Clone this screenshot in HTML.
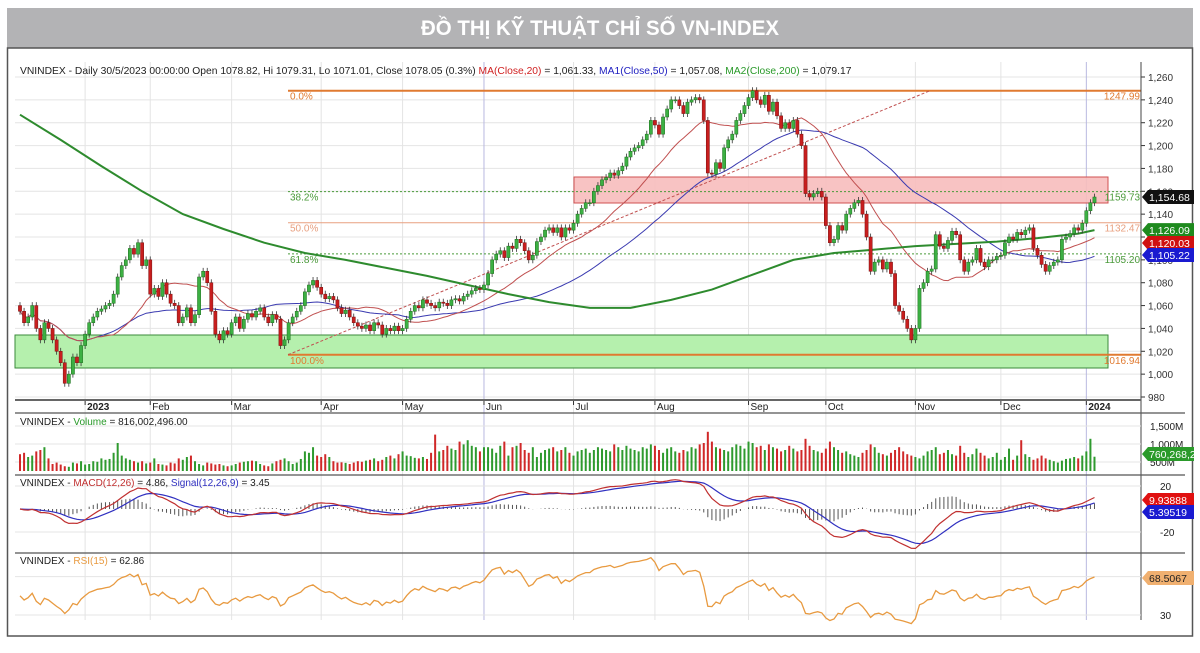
<!DOCTYPE html>
<html><head><meta charset="utf-8"><style>
body{margin:0;background:#fff;width:1200px;height:648px;overflow:hidden;font-family:"Liberation Sans",sans-serif}
svg text{font-family:"Liberation Sans",sans-serif}
</style></head><body>
<svg id="c" width="1200" height="648" xmlns="http://www.w3.org/2000/svg">
<rect x="7" y="8" width="1186" height="40" fill="#b3b3b5"/>
<text x="600" y="35" text-anchor="middle" font-size="21" font-weight="bold" fill="#fff" textLength="358" lengthAdjust="spacingAndGlyphs">ĐỒ THỊ KỸ THUẬT CHỈ SỐ VN-INDEX</text>
<rect x="7.5" y="48" width="1185" height="588" fill="none" stroke="#555" stroke-width="1.5"/>
<g id="g"></g>
</svg>
<script>
const closes=[1055,1045,1050,1060,1040,1030,1045,1040,1030,1020,1010,992,1000,1015,1010,1025,1035,1045,1050,1055,1057,1060,1062,1070,1085,1095,1100,1110,1105,1115,1095,1100,1070,1075,1068,1080,1070,1062,1060,1045,1050,1058,1045,1052,1085,1090,1080,1055,1035,1030,1038,1035,1045,1050,1040,1048,1053,1050,1055,1058,1050,1045,1052,1048,1025,1030,1045,1050,1055,1060,1072,1078,1082,1076,1070,1066,1068,1065,1058,1053,1056,1050,1045,1042,1040,1043,1038,1045,1043,1035,1040,1038,1042,1038,1040,1048,1055,1060,1058,1065,1062,1060,1058,1063,1062,1060,1065,1066,1064,1068,1070,1073,1075,1074,1078,1088,1100,1105,1108,1102,1112,1110,1118,1115,1108,1100,1104,1116,1120,1126,1128,1124,1128,1120,1128,1126,1132,1140,1145,1150,1150,1160,1165,1170,1172,1176,1174,1178,1182,1190,1195,1198,1200,1205,1210,1222,1218,1210,1225,1232,1240,1240,1235,1228,1238,1240,1242,1240,1222,1176,1175,1185,1180,1198,1205,1210,1222,1228,1235,1242,1248,1240,1236,1244,1230,1238,1226,1215,1220,1215,1222,1210,1200,1158,1155,1158,1160,1155,1130,1115,1118,1130,1126,1140,1145,1150,1152,1140,1120,1090,1098,1100,1092,1098,1088,1060,1055,1048,1040,1030,1040,1075,1080,1090,1092,1122,1112,1110,1117,1125,1122,1100,1090,1098,1100,1110,1098,1094,1100,1100,1103,1104,1115,1120,1118,1124,1122,1126,1128,1110,1104,1096,1090,1095,1098,1100,1118,1120,1123,1128,1126,1132,1143,1150,1155];
const volumes=[850,900,750,800,950,1000,1100,700,500,550,480,420,400,550,520,600,480,500,600,580,700,650,680,900,1250,800,700,650,600,550,600,520,550,700,500,480,450,550,520,700,650,750,800,600,500,450,550,520,480,500,450,420,450,500,550,580,600,620,600,500,450,420,520,600,650,700,600,500,550,680,950,900,1100,800,750,850,750,600,550,560,540,500,550,600,580,620,650,700,600,650,750,800,700,850,950,800,780,720,700,750,680,900,1550,950,1000,1150,1050,1000,1300,1200,1350,1150,1100,950,1100,1100,1050,900,1150,1300,800,1100,1150,1250,1000,900,1100,750,900,1000,1050,1100,950,1000,1100,900,800,950,1000,1050,900,1000,1100,1050,1000,950,1200,1100,1000,1150,1050,1000,950,1100,1050,1200,1150,1000,900,1050,1100,950,900,1000,950,1100,1050,1200,1250,1650,1300,1100,1050,1000,950,1100,1200,1150,1050,1300,1250,1100,1150,1000,1200,1100,1050,950,1000,1150,1050,950,1000,1400,1150,1000,950,900,1050,1300,1100,1000,900,950,850,800,750,900,1000,1200,1100,900,850,800,900,1000,1100,950,850,800,750,700,800,950,1000,1100,850,900,1000,850,800,1150,900,750,850,1050,900,800,700,750,900,650,750,1050,650,800,1350,850,750,650,700,800,700,650,600,550,620,680,700,750,700,800,950,1400,760];
const ma200=[1227,1205,1182,1160,1140,1127,1115,1106,1100,1093,1086,1078,1070,1063,1058,1058,1065,1074,1087,1100,1106,1109,1112,1114,1116,1119,1123,1126];
const priceTicks=[980,1000,1020,1040,1060,1080,1100,1120,1140,1160,1180,1200,1220,1240,1260];
const months=["2023","Feb","Mar","Apr","May","Jun","Jul","Aug","Sep","Oct","Nov","Dec","2024"];
const monthIdx=[16,32,52,74,94,114,136,156,179,198,220,241,262];
const fibLevels=[1247.99,1159.73,1132.47,1105.20,1016.94];
const fibNames=["0.0%","38.2%","50.0%","61.8%","100.0%"];

const NS="http://www.w3.org/2000/svg",G=document.getElementById('g');
function el(t,a,p){const e=document.createElementNS(NS,t);for(const k in a)e.setAttribute(k,a[k]);(p||G).appendChild(e);return e;}
function tx(x,y,s,a){const e=el('text',Object.assign({x:x,y:y,'font-size':10,fill:'#222'},a||{}));e.textContent=s;return e;}
const X=i=>20+i*4.07;
const YP=v=>77+(1260-v)*320/280;
const N=closes.length;
const opens=closes.map((c,i)=>i?closes[i-1]:c+5);
for(const v of priceTicks){const l=el('line',{x1:15,x2:1141,y1:YP(v),y2:YP(v),stroke:'#e4e4e4'});
 const t=tx(1148,YP(v)+4,v.toLocaleString('en-US'),{fill:'#333'});
 el('line',{x1:1141,x2:1145,y1:YP(v),y2:YP(v),stroke:'#333'});}
monthIdx.forEach((m,k)=>{const x=X(m);
 const l=el('line',{x1:x,x2:x,y1:62,y2:620,stroke:(k==5||k==12)?'#b8b8e0':'#e4e4e4'});
 el('line',{x1:x,x2:x,y1:401,y2:405,stroke:'#333'});
 const t=tx(x+2,410,months[k],{'font-weight':(k==0||k==12)?'bold':'normal'});});
let r=el('rect',{x:574,y:177,width:534,height:26,fill:'#f7bcbc',stroke:'#d05050','fill-opacity':0.9});
r=el('rect',{x:15,y:335,width:1093,height:33,fill:'#b5f0ad',stroke:'#3a8a3a'});
const fibCol=['#e07a30','#4a9a3a','#e8a080','#4a9a3a','#e07a30'];
fibLevels.forEach((v,k)=>{const y=YP(v);const dotted=(k==1||k==3);
 const l=el('line',{x1:288,x2:1141,y1:y,y2:y,stroke:fibCol[k],'stroke-width':(k==0||k==4)?2:1,'stroke-dasharray':dotted?'2,2':'none'});
 let t=tx(290,y+9,fibNames[k],{fill:fibCol[k]});
 t=tx(1140,y+9,v.toFixed(2),{fill:fibCol[k],'text-anchor':'end'});});
let tl=el('line',{x1:288,y1:YP(1016.94),x2:930,y2:YP(1247.99),stroke:'#c05050','stroke-dasharray':'3,2'});
function ma(n){return closes.map((c,i)=>{const s=closes.slice(Math.max(0,i-n+1),i+1);return s.reduce((a,b)=>a+b,0)/s.length;});}
function poly(pts,st,w,name){const p=el('polyline',{points:pts.map(q=>q[0].toFixed(1)+','+q[1].toFixed(1)).join(' '),fill:'none',stroke:st,'stroke-width':w});return p;}
poly(ma(50).map((v,i)=>[X(i),YP(v)]),'#3a3ab0',1,'ma50-line');
poly(ma(20).map((v,i)=>[X(i),YP(v)]),'#c05050',1,'ma20-line');
poly(ma200.map((v,k)=>[X(Math.min(k*10,N-1)),YP(v)]),'#2e8b2e',2,'ma200-line');
for(let i=0;i<N;i++){const o=opens[i],c=closes[i],up=c>=o,x=X(i);
 const hi=Math.max(o,c)+3,lo=Math.min(o,c)-3;
 const w=el('line',{x1:x,x2:x,y1:YP(hi),y2:YP(lo),stroke:'#333','stroke-width':0.8});
 const b=el('rect',{x:x-1.6,y:YP(Math.max(o,c)),width:3.2,height:Math.max(1,Math.abs(YP(o)-YP(c))),fill:up?'#3cb043':'#c81e1e',stroke:up?'#1e6e1e':'#7a1010','stroke-width':0.5});}
el('line',{x1:1141,x2:1141,y1:62,y2:620,stroke:'#444'});
el('line',{x1:15,x2:1141,y1:400,y2:400,stroke:'#666','stroke-width':2});
[413,475,553].forEach(y=>el('line',{x1:15,x2:1185,y1:y,y2:y,stroke:'#555','stroke-width':1.2}));
function tag(y,s,bg,name,fg){const p=el('path',{d:`M1142 ${y} l6 -7 h46 v14 h-46 z`,fill:bg});
 const t=tx(1149,y+4,s,{fill:fg||'#fff','font-size':10.5});}
tag(YP(closes[N-1]),'1,154.68','#111','last-price-tag');
tag(YP(ma200[ma200.length-1]),'1,126.09','#1e8a1e','ma200-tag');
tag(243,'1,120.03','#d01010','ma20-tag');
tag(255,'1,105.22','#1a1ad0','ma50-tag');
const lg=el('text',{x:20,y:74,'font-size':10.3,fill:'#222'});
lg.innerHTML='VNINDEX - Daily 30/5/2023 00:00:00 Open 1078.82, Hi 1079.31, Lo 1071.01, Close 1078.05 (0.3%) <tspan fill="#d02020">MA(Close,20)</tspan> = 1,061.33, <tspan fill="#2020c0">MA1(Close,50)</tspan> = 1,057.08, <tspan fill="#2a9a2a">MA2(Close,200)</tspan> = 1,079.17';
const YV=v=>480-v*0.036;
[500,1000,1500].forEach(v=>{el('line',{x1:15,x2:1141,y1:YV(v),y2:YV(v),stroke:'#e4e4e4'});const t=tx(1150,YV(v)+4,v.toLocaleString('en-US')+'M');});
for(let i=0;i<N;i++){const v=volumes[i]||600;const top=Math.min(471-(v-250)*0.028,469);const b=el('rect',{x:X(i)-1,y:top,width:2,height:471-top,fill:closes[i]>=opens[i]?'#2e9a2e':'#d02828'});}
let t=tx(20,425,'');t.innerHTML='VNINDEX - <tspan fill="#2a9a2a">Volume</tspan> = 816,002,496.00';
tag(454,'760,268,2','#2a9a2a','volume-tag');
function ema(a,n){const k=2/(n+1);let e=a[0];return a.map(v=>e=v*k+e*(1-k));}
const e12=ema(closes,12),e26=ema(closes,26),macd=e12.map((v,i)=>v-e26[i]),sig=ema(macd,9);
const YM=v=>509-v*1.15;
[20,-20].forEach(v=>{el('line',{x1:15,x2:1141,y1:YM(v),y2:YM(v),stroke:'#e4e4e4'});const tt=tx(1160,YM(v)+4,String(v));});
for(let i=0;i<N;i++){const h=macd[i]-sig[i];const b=el('line',{x1:X(i),x2:X(i),y1:YM(0),y2:YM(0)-h*1.2,stroke:'#555','stroke-width':1});}
poly(sig.map((v,i)=>[X(i),YM(v)]),'#3030c0',1.2,'macd-signal-line');
poly(macd.map((v,i)=>[X(i),YM(v)]),'#c03030',1.2,'macd-line');
t=tx(20,486,'');t.innerHTML='VNINDEX - <tspan fill="#c03030">MACD(12,26)</tspan> = 4.86, <tspan fill="#3030c0">Signal(12,26,9)</tspan> = 3.45';
tag(500,'9.93888','#e01010','macd-tag');tag(512,'5.39519','#1a1ad0','signal-tag');
const rsi=[];let ag=4,al=4;for(let i=0;i<N;i++){const d=i?closes[i]-closes[i-1]:0;const g=Math.max(d,0),l=Math.max(-d,0);ag=(ag*14+g)/15;al=(al*14+l)/15;rsi.push(100-100/(1+ag/(al||1e-6)));}
const YR=v=>615-(v-30)*0.96;
[30,70].forEach(v=>el('line',{x1:15,x2:1141,y1:YR(v),y2:YR(v),stroke:'#e4e4e4'}));
t=tx(1160,YR(30)+4,'30');
poly(rsi.map((v,i)=>[X(i),YR(v)]),'#e89a40',1.3,'rsi-line');
t=tx(20,564,'');t.innerHTML='VNINDEX - <tspan fill="#e89a40">RSI(15)</tspan> = 62.86';
tag(578,'68.5067','#f0b070','rsi-tag','#222');
</script>
</body></html>
